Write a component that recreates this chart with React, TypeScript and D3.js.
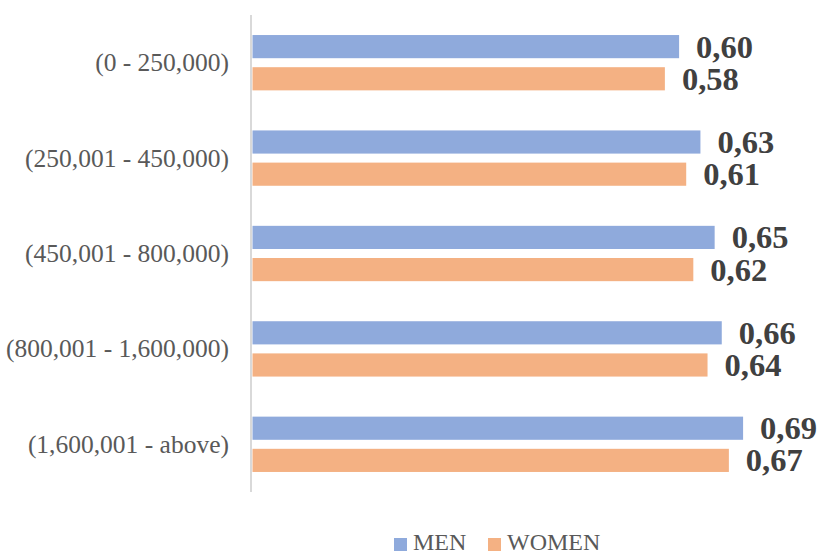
import React from "react";
import * as d3 from "d3";

const categories = [
  "(0 - 250,000)",
  "(250,001 - 450,000)",
  "(450,001 - 800,000)",
  "(800,001 - 1,600,000)",
  "(1,600,001 - above)",
];
const seriesNames = ["MEN", "WOMEN"];
const menValues = [0.6, 0.63, 0.65, 0.66, 0.69];
const womenValues = [0.58, 0.61, 0.62, 0.64, 0.67];
const colors = ["#8FAADC", "#F4B183"];

const W = 821;
const H = 556;

export default function App() {
  const x = d3.scaleLinear().domain([0, 0.8]).range([252.5, 252.5 + 711 * 0.8]);
  const y = d3
    .scaleBand<string>()
    .domain(categories)
    .range([15, 492])
    .paddingInner(0.42)
    .paddingOuter(0.21);
  const inner = d3
    .scaleBand<string>()
    .domain(seriesNames)
    .range([0, y.bandwidth()])
    .paddingInner(0.28);
  const values = [menValues, womenValues];
  const fmt = (v: number) => d3.format(".2f")(v).replace(".", ",");
  const serif = "'Liberation Serif', 'Times New Roman', serif";

  return (
    <svg
      width={W}
      height={H}
      style={{ position: "absolute", left: 0, top: 0, background: "#fff" }}
    >
      <line x1={251} x2={251} y1={15} y2={492} stroke="#D9D9D9" strokeWidth={2} />
      {categories.map((c, i) => {
        const y0 = y(c)!;
        return (
          <g key={c}>
            <text
              x={229}
              y={y0 + y.bandwidth() / 2}
              textAnchor="end"
              dominantBaseline="central"
              fontFamily={serif}
              fontSize={25.5}
              fill="#595959"
            >
              {c}
            </text>
            {seriesNames.map((s, j) => {
              const v = values[j][i];
              const by = y0 + inner(s)!;
              return (
                <g key={s}>
                  <rect
                    x={x(0)}
                    y={by}
                    width={x(v) - x(0)}
                    height={inner.bandwidth()}
                    fill={colors[j]}
                  />
                  <text
                    x={x(v) + 17}
                    y={by + inner.bandwidth() / 2 + 11}
                    fontFamily={serif}
                    fontWeight="bold"
                    fontSize={32.5}
                    fill="#404040"
                  >
                    {fmt(v)}
                  </text>
                </g>
              );
            })}
          </g>
        );
      })}
      {seriesNames.map((s, j) => {
        const lx = [394, 488][j];
        return (
          <g key={s}>
            <rect x={lx} y={538} width={13} height={13} fill={colors[j]} />
            <text
              x={lx + 19}
              y={550}
              fontFamily={serif}
              fontSize={24}
              fill="#595959"
            >
              {s}
            </text>
          </g>
        );
      })}
    </svg>
  );
}
